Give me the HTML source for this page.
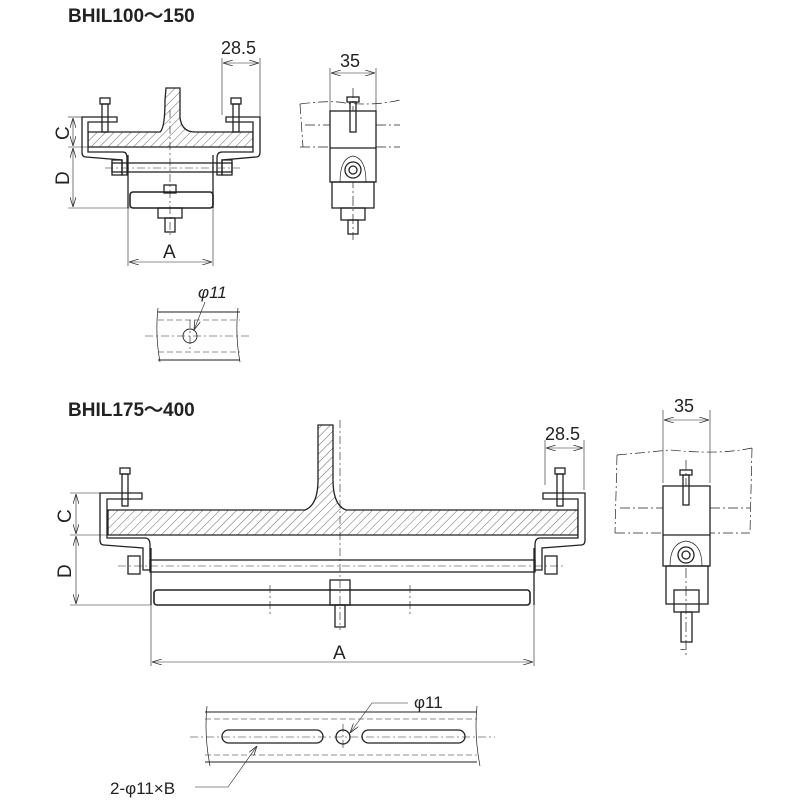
<!DOCTYPE html>
<html><head><meta charset="utf-8"><style>
html,body{margin:0;padding:0;background:#fff}
svg{display:block}
text{font-family:"Liberation Sans",sans-serif;fill:#222}
</style></head><body>
<svg width="800" height="800" viewBox="0 0 800 800" xmlns="http://www.w3.org/2000/svg">
<defs>
<pattern id="h" width="6" height="6" patternUnits="userSpaceOnUse" patternTransform="rotate(45)">
<line x1="0" y1="0" x2="0" y2="6" stroke="#444" stroke-width="0.8"/></pattern>
<marker id="a" markerWidth="10" markerHeight="6" refX="10" refY="3" orient="auto-start-reverse" markerUnits="userSpaceOnUse"><path d="M0,0 L10,3 L0,6" fill="none" stroke="#333" stroke-width="0.8"/></marker>
</defs>
<g stroke="#222" stroke-width="1.3" fill="none">

<text x="68" y="22" font-size="19" font-weight="bold" stroke="none">BHIL100～150</text>
<text x="68" y="416" font-size="19" font-weight="bold" stroke="none">BHIL175～400</text>

<!-- ===== TOP LEFT ===== -->
<path d="M88,132 L160,132 Q165,128 165,100 L166,88 L180,88 L180,118 Q182,132 195,132 L253,132 L253,147 L88,147 Z" fill="url(#h)"/>
<path d="M82,117 L117,117 L117,122 L88,122 L88,152 L123,152 Q127,152 127,158 L127,175 L122,175 L122,160 L86,157 Q82,157 82,152 Z" fill="#fff"/>
<path d="M260,117 L226,117 L226,122 L253,122 L253,152 L222,152 Q217,152 217,158 L217,175 L222,175 L222,160 L256,157 Q260,157 260,152 Z" fill="#fff"/>
<rect x="100" y="98" width="10" height="6"/><rect x="102" y="104" width="6" height="28"/>
<rect x="231" y="98" width="10" height="6"/><rect x="233" y="104" width="6" height="28"/>
<rect x="112" y="163" width="120" height="9"/>
<rect x="112" y="160" width="10" height="15"/><rect x="222" y="160" width="10" height="15"/>
<line x1="128" y1="155" x2="128" y2="208"/><line x1="213" y1="155" x2="213" y2="208"/>
<rect x="130" y="192" width="83" height="16" rx="3" stroke-width="1.6"/>
<rect x="164" y="185" width="12" height="8"/>
<rect x="158" y="208" width="24" height="10"/>
<rect x="165" y="218" width="10" height="14"/>
<g stroke-width="0.6" stroke-dasharray="8,3,2,3"><line x1="170" y1="110" x2="170" y2="235"/><line x1="105" y1="168" x2="240" y2="168"/></g>
<g stroke-width="0.6">
<line x1="68" y1="117" x2="82" y2="117"/><line x1="68" y1="147" x2="88" y2="147"/><line x1="68" y1="208" x2="130" y2="208"/>
<line x1="73" y1="118" x2="73" y2="146" marker-start="url(#a)" marker-end="url(#a)"/>
<line x1="73" y1="148" x2="73" y2="207" marker-start="url(#a)" marker-end="url(#a)"/>
<line x1="128" y1="208" x2="128" y2="266"/><line x1="213" y1="208" x2="213" y2="266"/>
<line x1="129" y1="262" x2="212" y2="262" marker-start="url(#a)" marker-end="url(#a)"/>
<line x1="222" y1="58" x2="222" y2="115"/><line x1="260" y1="58" x2="260" y2="117"/>
<line x1="223" y1="63" x2="259" y2="63" marker-start="url(#a)" marker-end="url(#a)"/>
<line x1="330" y1="68" x2="330" y2="111"/><line x1="376" y1="68" x2="376" y2="111"/>
<line x1="331" y1="73" x2="375" y2="73" marker-start="url(#a)" marker-end="url(#a)"/>
</g>
<text x="54" y="139" font-size="19" stroke="none" transform="rotate(-90 62 132)">C</text>
<text x="54" y="184" font-size="19" stroke="none" transform="rotate(-90 62 177)">D</text>
<text x="163" y="258" font-size="19" stroke="none">A</text>
<text x="221" y="54" font-size="18" stroke="none">28.5</text>
<text x="340" y="67" font-size="18" stroke="none">35</text>

<g stroke-width="0.7" stroke-dasharray="10,3,2,3">
<path d="M300,104 Q330,100 345,103 Q375,106 400,100"/><line x1="300" y1="104" x2="303" y2="147"/>
<line x1="300" y1="147" x2="330" y2="147"/><line x1="376" y1="147" x2="400" y2="147"/>
<line x1="305" y1="125" x2="330" y2="125"/><line x1="376" y1="125" x2="400" y2="125"/>
<line x1="353" y1="88" x2="353" y2="240"/>
</g>
<rect x="330" y="111" width="46" height="71" fill="#fff"/>
<line x1="330" y1="148" x2="376" y2="148"/>
<rect x="347" y="97" width="12" height="5"/><rect x="350" y="102" width="6" height="30"/>
<circle cx="353" cy="170" r="8"/><circle cx="353" cy="170" r="4"/>
<path d="M340,182 Q340,158 353,156 Q366,158 366,182" stroke-width="0.7"/>
<rect x="332" y="182" width="42" height="26"/>
<rect x="341" y="208" width="24" height="12"/><rect x="348" y="220" width="10" height="14"/>

<g stroke-width="0.9">
<line x1="158" y1="312" x2="240" y2="312"/><line x1="158" y1="360" x2="240" y2="360"/>
<path d="M158,308 Q155,335 160,362" stroke-width="0.7"/><path d="M238,308 Q235,335 240,362" stroke-width="0.7"/>
<circle cx="190" cy="336" r="7"/>
</g>
<g stroke-width="0.6" stroke-dasharray="8,3,2,3"><line x1="145" y1="336" x2="250" y2="336"/><line x1="190" y1="320" x2="190" y2="352"/></g>
<g stroke-width="0.6" stroke-dasharray="6,3"><line x1="158" y1="320" x2="240" y2="320"/><line x1="158" y1="352" x2="240" y2="352"/></g>
<line x1="205" y1="302" x2="194" y2="330" stroke-width="0.6" marker-end="url(#a)"/>
<text x="198" y="298" font-size="17" stroke="none" font-style="italic">φ11</text>

<!-- ===== BOTTOM ===== -->
<path d="M108,510 L305,510 Q318,505 318,480 L318,425 L333,425 L333,480 Q333,505 346,510 L578,510 L578,535 L108,535 Z" fill="url(#h)"/>
<path d="M100,493 L142,493 L142,499 L107,499 L107,538 L145,538 Q150,538 150,545 L150,570 L143,570 L143,548 L104,545 Q100,545 100,540 Z" fill="#fff"/>
<path d="M585,493 L543,493 L543,499 L578,499 L578,538 L540,538 Q535,538 535,545 L535,570 L542,570 L542,548 L581,545 Q585,545 585,540 Z" fill="#fff"/>
<rect x="120" y="468" width="10" height="6"/><rect x="122" y="474" width="6" height="32"/>
<rect x="555" y="468" width="10" height="6"/><rect x="557" y="474" width="6" height="32"/>
<rect x="150" y="560" width="385" height="12"/>
<rect x="128" y="556" width="12" height="18"/><rect x="545" y="556" width="12" height="18"/>
<line x1="151" y1="548" x2="151" y2="605"/><line x1="534" y1="548" x2="534" y2="605"/>
<rect x="154" y="590" width="376" height="15" rx="3" stroke-width="1.6"/>
<rect x="330" y="580" width="20" height="25"/><rect x="335" y="605" width="10" height="22"/>
<g stroke-width="0.6" stroke-dasharray="8,3,2,3"><line x1="340" y1="420" x2="340" y2="630"/><line x1="118" y1="566" x2="565" y2="566"/><line x1="270" y1="585" x2="270" y2="615"/><line x1="410" y1="585" x2="410" y2="615"/></g>
<g stroke-width="0.6">
<line x1="70" y1="493" x2="100" y2="493"/><line x1="70" y1="535" x2="108" y2="535"/><line x1="70" y1="605" x2="151" y2="605"/>
<line x1="76" y1="494" x2="76" y2="534" marker-start="url(#a)" marker-end="url(#a)"/>
<line x1="76" y1="536" x2="76" y2="604" marker-start="url(#a)" marker-end="url(#a)"/>
<line x1="151" y1="605" x2="151" y2="666"/><line x1="534" y1="605" x2="534" y2="666"/>
<line x1="152" y1="662" x2="533" y2="662" marker-start="url(#a)" marker-end="url(#a)"/>
<line x1="545" y1="440" x2="545" y2="485"/><line x1="584" y1="440" x2="584" y2="490"/>
<line x1="546" y1="448" x2="583" y2="448" marker-start="url(#a)" marker-end="url(#a)"/>
<line x1="663" y1="410" x2="663" y2="483"/><line x1="710" y1="410" x2="710" y2="483"/>
<line x1="664" y1="420" x2="709" y2="420" marker-start="url(#a)" marker-end="url(#a)"/>
</g>
<text x="56" y="522" font-size="19" stroke="none" transform="rotate(-90 64 515)">C</text>
<text x="56" y="577" font-size="19" stroke="none" transform="rotate(-90 64 570)">D</text>
<text x="333" y="659" font-size="19" stroke="none">A</text>
<text x="545" y="440" font-size="18" stroke="none">28.5</text>
<text x="674" y="412" font-size="18" stroke="none">35</text>

<g stroke-width="0.7" stroke-dasharray="10,3,2,3">
<path d="M617,455 Q650,452 670,450 Q720,455 752,448"/><line x1="617" y1="455" x2="615" y2="533"/><line x1="752" y1="448" x2="750" y2="533"/>
<line x1="615" y1="533" x2="750" y2="533"/><line x1="620" y1="508" x2="663" y2="508"/><line x1="710" y1="508" x2="750" y2="508"/>
<line x1="686" y1="460" x2="686" y2="655"/>
</g>
<rect x="663" y="486" width="47" height="80" fill="#fff"/>
<line x1="663" y1="535" x2="710" y2="535"/>
<rect x="680" y="470" width="12" height="5"/><rect x="683" y="475" width="6" height="30"/>
<circle cx="686" cy="555" r="8"/><circle cx="686" cy="555" r="4"/>
<path d="M670,566 Q670,543 686,541 Q702,543 702,566" stroke-width="0.7"/>
<rect x="666" y="566" width="42" height="38"/>
<rect x="674" y="590" width="25" height="22"/><rect x="681" y="612" width="11" height="30"/>
<text x="680" y="653" font-size="10" stroke="none">~</text>

<g stroke-width="0.9">
<line x1="205" y1="712" x2="477" y2="712"/><line x1="205" y1="762" x2="477" y2="762"/>
<path d="M207,706 Q204,735 210,766" stroke-width="0.7"/><path d="M477,706 Q474,735 480,766" stroke-width="0.7"/>
<rect x="222" y="730" width="101" height="13" rx="6.5" stroke-width="1.3"/>
<rect x="362" y="730" width="103" height="13" rx="6.5" stroke-width="1.3"/>
<circle cx="343" cy="737" r="7" stroke-width="1.3"/>
</g>
<g stroke-width="0.6" stroke-dasharray="6,3"><line x1="205" y1="719" x2="477" y2="719"/><line x1="205" y1="755" x2="477" y2="755"/></g>
<g stroke-width="0.6" stroke-dasharray="8,3,2,3"><line x1="190" y1="737" x2="495" y2="737"/><line x1="343" y1="724" x2="343" y2="750"/></g>
<polyline points="408,703 372,703 350,733" stroke-width="0.6" marker-end="url(#a)"/>
<polyline points="195,787 228,787 257,746" stroke-width="0.6" marker-end="url(#a)"/>
<text x="414" y="708" font-size="17" stroke="none">φ11</text>
<text x="110" y="794" font-size="17" stroke="none">2-φ11×B</text>
</g>
</svg>
</body></html>
